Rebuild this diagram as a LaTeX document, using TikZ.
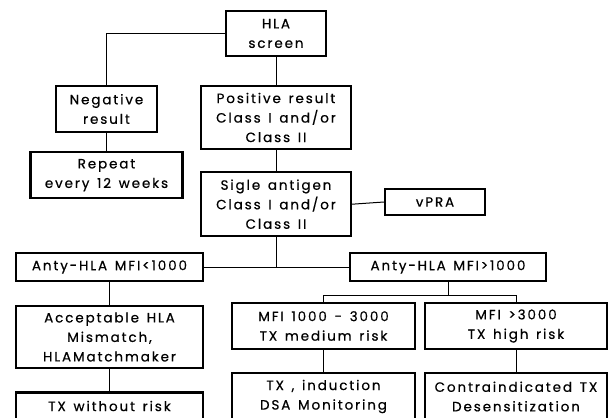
\documentclass[tikz,border=0pt]{standalone}
\usepackage{fontspec}
\setmainfont{Poppins}[LetterSpace=14, FakeBold=0.6, WordSpace=1.4]
\usepackage{tikz}
\usetikzlibrary{positioning,calc}

\begin{document}
\begin{tikzpicture}[
		x=1pt, y=-1pt,
		flowbox/.style={draw, line width=2.2pt, align=center, inner sep=0pt,
			font=\fontsize{13.5}{19.5}\selectfont},
		link/.style={line width=1pt},
		]
		\clip (0,0) rectangle (611,418);
		
		%% -- Screening column
		\node[flowbox, minimum width=100pt, minimum height=45pt] (hla)
		at (276,33.5) {HLA\\screen};
		
		\node[flowbox, minimum width=101pt, minimum height=46pt] (neg)
		at (106.5,109) {Negative\\result};
		
		\node[flowbox, minimum width=152pt, minimum height=46pt,
		below=18pt of neg] (rep)
		{Repeat\\every 12 weeks};
		
		\node[flowbox, minimum width=150pt, minimum height=63pt] (pos)
		at (276,117.5) {Positive result\\Class I and/or\\Class II};
		
		\node[flowbox, minimum width=150pt, minimum height=64pt,
		below=21pt of pos] (sig)
		{Sigle antigen\\Class I and/or\\Class II};
		
		\node[flowbox, minimum width=100pt, minimum height=26pt] (vpra)
		at (435,202) {vPRA};
		
		%% -- MFI split
		\node[flowbox, minimum width=187pt, minimum height=28pt] (low)
		at (109.5,267) {Anty-HLA MFI<1000};
		
		\node[flowbox, minimum width=196pt, minimum height=28pt] (high)
		at (448,267) {Anty-HLA MFI>1000};
		
		%% -- Low MFI branch
		\node[flowbox, minimum width=187pt, minimum height=62pt] (acc)
		at (109.5,337) {Acceptable HLA\\Mismatch,\\HLAMatchmaker};
		
		\node[flowbox, minimum width=187pt, minimum height=27pt] (txno)
		at (109.5,406) {TX without risk};
		
		%% -- High MFI branch
		\node[flowbox, minimum width=183pt, minimum height=46pt] (med)
		at (323.5,326) {MFI 1000 - 3000\\TX medium risk};
		
		\node[flowbox, minimum width=182pt, minimum height=46pt] (hi)
		at (516,326) {MFI >3000\\TX high risk};
		
		\node[flowbox, minimum width=183pt, minimum height=47pt] (ind)
		at (323.5,396.5) {TX , induction\\DSA Monitoring};
		
		\node[flowbox, minimum width=182pt, minimum height=47pt] (con)
		at (516,396.5) {Contraindicated TX\\Desensitization};
		
		%% -- Connectors
		\draw[link] (hla.west) -| (neg.north);
		\draw[link] (neg.south) -- (rep.north);
		\draw[link] (hla.south) -- (pos.north);
		\draw[link] (pos.south) -- (sig.north);
		\draw[link] (sig.east) -- (vpra.west);
		\draw[link] (sig.south) -- (sig.south |- low.east);
		\draw[link] (low.east) -- (high.west);
		\draw[link] (low.south) -- (acc.north);
		\draw[link] (acc.south) -- (txno.north);
		
		\coordinate (fork) at ($(high.south)+(0,13)$);
		\draw[link] (high.south) -- (fork) -| (med.north);
		\draw[link] (fork) -| (hi.north);
		\draw[link] (med.south) -- (ind.north);
		\draw[link] (hi.south) -- (con.north);
		
	\end{tikzpicture}
\end{document}
